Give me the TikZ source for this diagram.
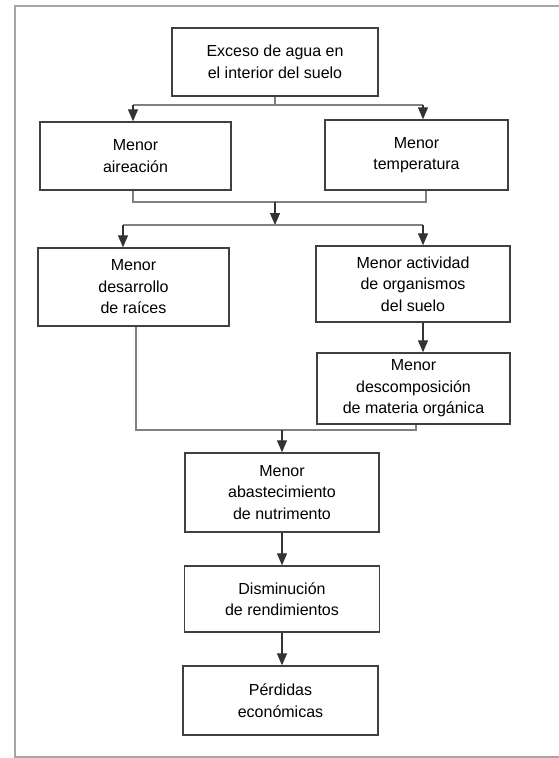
\documentclass[tikz,border=0pt]{standalone}
\usepackage{fontspec}
\setmainfont{Liberation Sans}
\usetikzlibrary{arrows.meta, positioning}

\begin{document}
\begin{tikzpicture}[x=1pt, y=-1pt,
    box/.style={draw=black!75, line width=1.4pt, fill=white, align=center, inner sep=0pt,
                font=\fontsize{16}{21.5}\selectfont},
    link/.style={draw=black!50, line width=1.3pt},
    arrow/.style={-{Triangle[length=12pt, width=10pt]}, line width=1.3pt, draw=black!80},
    frame/.style={draw=black!35, line width=2pt}
]

    % Page size and outer frame
    \useasboundingbox (0,0) rectangle (559,758);
    \draw[frame] (559,6) -- (15,6) -- (15,757) -- (559,757);

    % Main cause
    \node[box, minimum width=206pt, minimum height=68pt] (exceso) at (275,62) {Exceso de agua en\\el interior del suelo};

    % First effects
    \node[box, minimum width=191pt, minimum height=68pt] (aireacion) at (135.5,156) {Menor\\aireación};
    \node[box, minimum width=183pt, minimum height=70pt] (temperatura) at (416.5,155) {Menor\\temperatura};

    % Second effects
    \node[box, minimum width=191pt, minimum height=78pt] (raices) at (133.5,287) {Menor\\desarrollo\\de raíces};
    \node[box, minimum width=194pt, minimum height=76pt] (actividad) at (413,284) {Menor actividad\\de organismos\\del suelo};
    \node[box, minimum width=193pt, minimum height=71pt] (descomposicion) at (413.5,388.5) {Menor\\descomposición\\de materia orgánica};

    % Final chain
    \node[box, minimum width=194pt, minimum height=79pt] (abastecimiento) at (282,492.5) {Menor\\abastecimiento\\de nutrimento};
    \node[box, minimum width=195pt, minimum height=66pt] (disminucion) at (282,599) {Disminución\\de rendimientos};
    \node[box, minimum width=195pt, minimum height=69pt] (perdidas) at (280.5,700.5) {Pérdidas\\económicas};

    % Split below the main cause
    \coordinate (split_top) at (275,105);
    \coordinate (split_left) at (133,105);
    \coordinate (split_right) at (423,105);
    \draw[link] (exceso.south) -- (split_top);
    \draw[link] (split_left) -- (split_right);
    \draw[arrow] (split_left) -- (split_left |- aireacion.north);
    \draw[arrow] (split_right) -- (split_right |- temperatura.north);

    % Join of aireacion and temperatura
    \coordinate (join_left) at (133,202);
    \coordinate (join_right) at (426,202);
    \coordinate (join_mid) at (275,202);
    \draw[link] (join_left |- aireacion.south) -- (join_left) -- (join_right) -- (join_right |- temperatura.south);

    % Second split
    \coordinate (split2_mid) at (275,225);
    \coordinate (split2_left) at (123,225);
    \coordinate (split2_right) at (423,225);
    \draw[arrow] (join_mid) -- (split2_mid);
    \draw[link] (split2_left) -- (split2_right);
    \draw[arrow] (split2_left) -- (split2_left |- raices.north);
    \draw[arrow] (split2_right) -- (split2_right |- actividad.north);
    \draw[arrow] (split2_right |- actividad.south) -- (split2_right |- descomposicion.north);

    % Join of raices and descomposicion
    \coordinate (join2_left) at (136,430);
    \coordinate (join2_right) at (416,430);
    \coordinate (join2_mid) at (282,430);
    \draw[link] (join2_left |- raices.south) -- (join2_left) -- (join2_right) -- (join2_right |- descomposicion.south);
    \draw[arrow] (join2_mid) -- (abastecimiento.north);

    % Final chain
    \draw[arrow] (abastecimiento.south) -- (disminucion.north);
    \draw[arrow] (disminucion.south) -- (disminucion.south |- perdidas.north);

\end{tikzpicture}
\end{document}
